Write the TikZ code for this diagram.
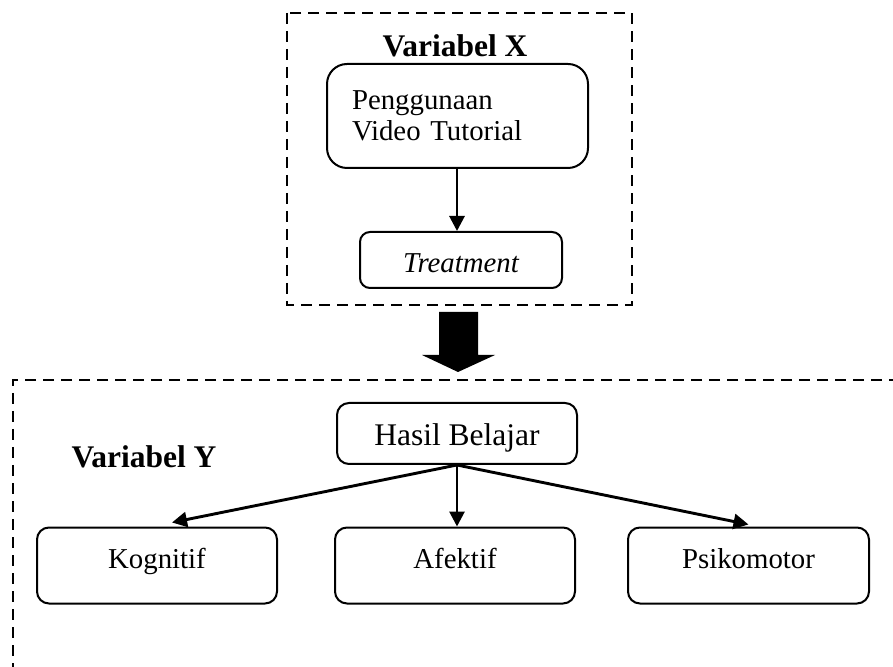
\documentclass[tikz,border=0pt]{standalone}
\usepackage{fontspec}
\setmainfont{Liberation Serif}
\usetikzlibrary{arrows.meta,calc}
\begin{document}
\begin{tikzpicture}[x=0.5pt,y=-0.5pt,
  every node/.style={inner sep=0pt},
  big/.style={font=\fontsize{15.75pt}{15.5pt}\selectfont},
  small/.style={font=\fontsize{14.4pt}{15.5pt}\selectfont},
  title/.style={font=\fontsize{15.75pt}{15.5pt}\selectfont\bfseries},
  rbox/.style={draw, line width=1pt, rounded corners=#1, align=center},
  rbox/.default=6pt,
  dashbox/.style={line width=1.4pt, dash pattern=on 5.5pt off 3.5pt},
  flow/.style={line width=1.45pt, -{Triangle[width=7.5pt,length=7.5pt]}}]
\useasboundingbox (0,0) rectangle (893,667);

% upper group: independent variable
\draw[dashbox] (287,13) rectangle (632,305);
\node[title] (vx) at (455,46) {Variabel X};
\node[rbox=10pt, small, text width=105.5pt, inner xsep=12.5pt, minimum height=52pt, align=left]
  (pvt) at (457.5,116) {Penggunaan\\Video Tutorial};
\node[rbox=5pt, small, minimum width=101pt, minimum height=28pt, text height=13pt, text depth=0pt]
  (treat) at (461,260) {\itshape Treatment};
\draw[flow] (pvt.south -| 457,0) -- (treat.north -| 457,0);

% block arrow between the two groups
\fill (439,312) -- (478,312) -- (478,355) -- (495,355) -- (458,372) -- (422,355) -- (439,355) -- cycle;

% lower group: dependent variable
\draw[dashbox] (900,380) -- (13,380) -- (13,680);
\node[title] (vy) at (144,457) {Variabel Y};
\node[rbox, big, minimum width=120pt, minimum height=30.5pt, text height=11.5pt, text depth=0pt]
  (hb) at (457,433.5) {Hasil Belajar};
\tikzset{leaf/.style={rbox, small, minimum height=38pt, text height=10pt, text depth=7.5pt}}
\node[leaf, minimum width=120pt] (kog) at (157,565.5) {Kognitif};
\node[leaf, minimum width=120pt] (afe) at (455,565.5) {Afektif};
\node[leaf, minimum width=120.5pt] (psi) at (748.5,565.5) {Psikomotor};

\draw[flow] (hb.south) -- ([xshift=7.5pt,yshift=2pt]kog.north);
\draw[flow] (hb.south) -- (hb.south |- afe.north);
\draw[flow] (hb.south) -- ([yshift=1pt]psi.north);
\end{tikzpicture}
\end{document}
